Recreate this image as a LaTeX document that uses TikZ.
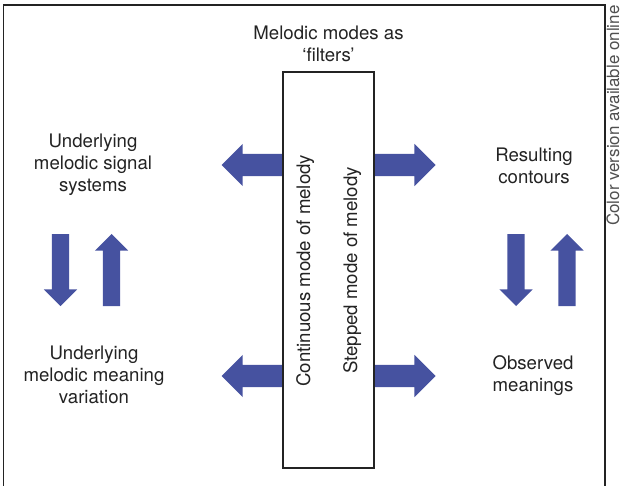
\documentclass[tikz,border=0pt]{standalone}
\usepackage{fontspec}
\setmainfont{TeX Gyre Heros}
\usetikzlibrary{shapes.arrows}
\definecolor{arrowblue}{RGB}{70,82,160}
\definecolor{ink}{RGB}{35,35,35}
\definecolor{notegray}{RGB}{80,80,80}
\begin{document}
\begin{tikzpicture}[x=1bp,y=-1bp,
  every node/.style={font=\fontsize{18.7}{22}\selectfont, text=ink},
  harrow/.style={single arrow, fill=arrowblue, draw=none, inner sep=0pt, outer sep=0pt,
    minimum height=62bp, single arrow head extend=10bp, anchor=tail},
  varrow/.style={single arrow, fill=arrowblue, draw=none, inner sep=0pt, outer sep=0pt,
    minimum height=72bp, single arrow head extend=8bp, anchor=tail},
  txt/.style={align=center},
  vtxt/.style={rotate=90, anchor=base west, inner sep=0pt}]
\useasboundingbox (0,0) rectangle (622,486);
% frame
\draw[ink, line width=1.2bp] (3.5,495) -- (3.5,5) -- (605,5) -- (605,495);
% horizontal arrows (tails on the filter box)
\node[harrow, rotate=180] (aUL) at (283.5,165) {\rule{0pt}{22bp}};
\node[harrow] (aUR) at (373.5,165) {\rule{0pt}{22bp}};
\node[harrow, rotate=180] (aLL) at (283.5,376) {\rule{0pt}{22bp}};
\node[harrow] (aLR) at (373.5,376) {\rule{0pt}{22bp}};
% vertical arrows
\node[varrow, rotate=-90] (dL) at (60.5,234) {\rule{0pt}{17bp}};
\node[varrow, rotate=90] (uL) at (111.5,306) {\rule{0pt}{17bp}};
\node[varrow, rotate=-90] (dR) at (516,234) {\rule{0pt}{17bp}};
\node[varrow, rotate=90] (uR) at (567,306) {\rule{0pt}{17bp}};
% filter box
\node[draw=ink, line width=1.2bp, fill=white, inner sep=0pt,
  minimum width=91bp, minimum height=396bp] (filt) at (328.5,270) {};
\node[vtxt] (cont) at (310,387) {Continuous mode of melody};
\node[vtxt] (step) at (357,374) {Stepped mode of melody};
% labels
\node[txt] (title) at (328.5,43.5) {Melodic modes as\\‘filters’};
\node[txt] (sig) at (93,165) {Underlying\\melodic signal\\systems};
\node[txt] (res) at (534,166) {Resulting\\contours};
\node[txt] (mean) at (94,375) {Underlying\\melodic meaning\\variation};
\node[txt] (obs) at (533,376) {Observed\\meanings};
\node[vtxt, text=notegray, font=\fontsize{17}{19}\selectfont] (online) at (619,226) {Color version available online};
\end{tikzpicture}
\end{document}
